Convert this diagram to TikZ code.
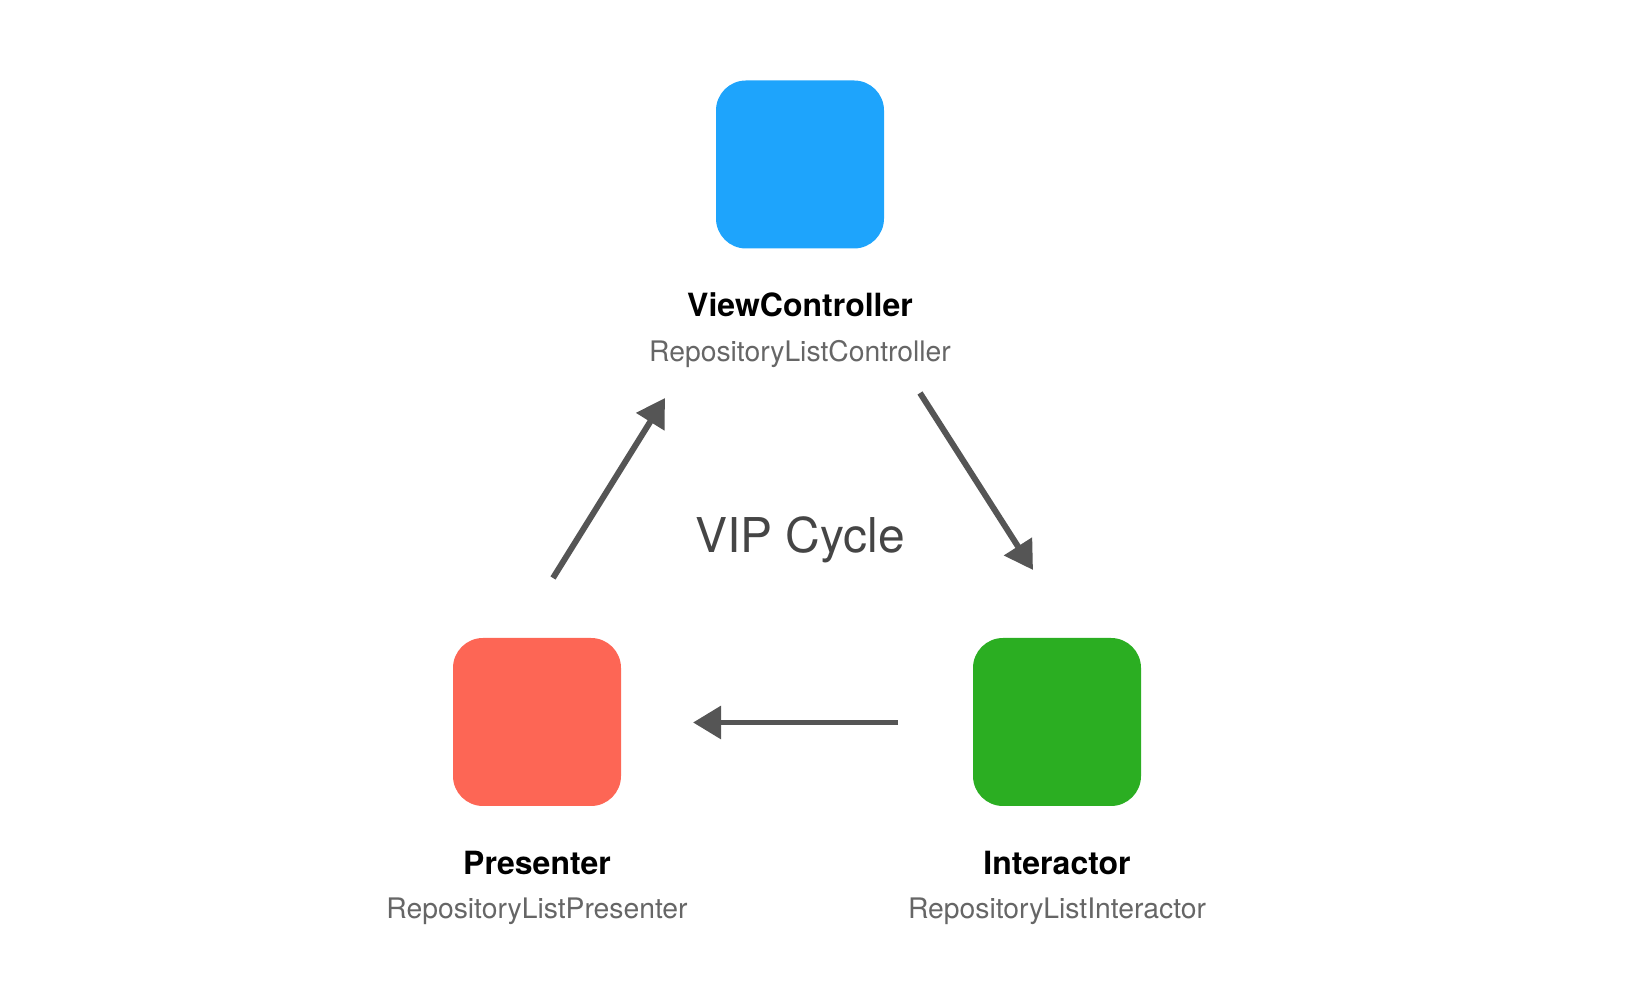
\documentclass[tikz,border=0pt]{standalone}
\usepackage{fontspec}
\setmainfont{TeX Gyre Heros}
\usepackage{xcolor}
\usetikzlibrary{arrows.meta}
\definecolor{vcblue}{HTML}{1EA4FC}
\definecolor{prred}{HTML}{FD6655}
\definecolor{itgreen}{HTML}{2BAE22}
\definecolor{subgray}{HTML}{666666}
\definecolor{arrgray}{HTML}{555555}

\begin{document}
\begin{tikzpicture}[box/.style={rounded corners=0.6cm, minimum size=3.36cm, inner sep=0pt},
    rolename/.style={anchor=base, font=\fontsize{18.2}{20}\selectfont\bfseries},
    classname/.style={anchor=base, text=subgray, font=\fontsize{16.1}{18}\selectfont},
    flow/.style={arrgray, line width=3.4pt, -{Triangle[length=0.56cm, width=0.64cm]}}]
    \useasboundingbox (0, 0) rectangle (32.76, 20.04);
    \node[box, fill=vcblue] (vc) at (16.0, 16.75) {};
    \node[box, fill=prred] (pr) at (10.74, 5.6) {};
    \node[box, fill=itgreen] (it) at (21.14, 5.6) {};

    \node[rolename] (vcname) at ([yshift=-3.05cm]vc.center) {ViewController};
    \node[classname] (vcsub) at ([yshift=-3.94cm]vc.center) {RepositoryListController};
    \node[rolename] (prname) at ([yshift=-3.05cm]pr.center) {Presenter};
    \node[classname] (prsub) at ([yshift=-3.94cm]pr.center) {RepositoryListPresenter};
    \node[rolename] (itname) at ([yshift=-3.05cm]it.center) {Interactor};
    \node[classname] (itsub) at ([yshift=-3.94cm]it.center) {RepositoryListInteractor};

    \node[anchor=base, text=black!73, font=\fontsize{27.3}{30}\selectfont] (cycle) at (16.0, 8.98) {VIP Cycle};

    \coordinate (pa) at (11.06, 8.48);
    \coordinate (pb) at (13.30, 12.08);
    \coordinate (va) at (18.4, 12.18);
    \coordinate (vb) at (20.66, 8.64);
    \coordinate (ia) at (17.96, 5.59);
    \coordinate (ib) at (13.86, 5.59);

    \draw [flow] (pa) -- (pb);
    \draw [flow] (va) -- (vb);
    \draw [flow] (ia) -- (ib);
\end{tikzpicture}
\end{document}
